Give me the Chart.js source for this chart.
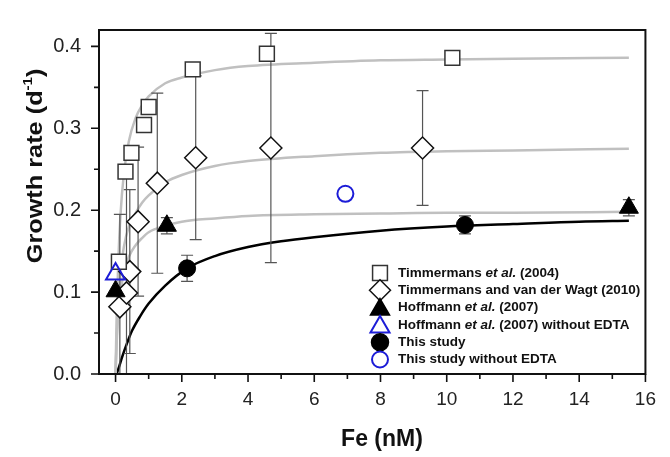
<!DOCTYPE html>
<html>
<head>
<meta charset="utf-8">
<script src="https://cdn.jsdelivr.net/npm/chart.js@4.4.1/dist/chart.umd.min.js"></script>
<style>
    html, body { margin: 0; padding: 0; background: #fff; }
    #wrap { width: 670px; height: 457px; }
</style>
</head>
<body>
<div id="wrap"><canvas id="grafico" width="670" height="457"></canvas></div>
<script>
// Timmermans et al. (2004) - quadrados
const timm04X = [0.1, 0.3, 0.48, 0.86, 1.0, 2.33, 4.57, 10.17];
const timm04Y = [0.137, 0.247, 0.270, 0.304, 0.326, 0.372, 0.391, 0.386];

// Timmermans and van der Wagt (2010) - losangos com barras de erro
const timm10X = [0.13, 0.33, 0.43, 0.68, 1.26, 2.42, 4.69, 9.27];
const timm10Y = [0.082, 0.099, 0.125, 0.186, 0.233, 0.264, 0.276, 0.276];
const timm10Erro = [0.113, 0.147, 0.1, 0.091, 0.11, 0.1, 0.14, 0.07];

// Hoffmann et al. (2007)
const hoffX = [0.0, 1.55, 15.5];
const hoffY = [0.101, 0.181, 0.203];
const hoffErro = [0, 0.01, 0.01];

// Hoffmann et al. (2007) sem EDTA
const hoffSemX = [0.0];
const hoffSemY = [0.122];

// Este estudo
const estudoX = [2.16, 10.55];
const estudoY = [0.129, 0.182];
const estudoErro = [0.016, 0.011];

// Este estudo sem EDTA
const estudoSemX = [6.94];
const estudoSemY = [0.22];

// Curvas ajustadas
const curvaX = [0, 0.03, 0.08, 0.15, 0.25, 0.4, 0.6, 0.8, 1.0, 1.5, 2, 3, 4, 6, 8, 10, 12, 15.5];
const curvaTimm04Y = [0, 0.065, 0.135, 0.195, 0.244, 0.284, 0.312, 0.328, 0.339, 0.355, 0.362, 0.371, 0.376, 0.38, 0.383, 0.384, 0.385, 0.386];
const curvaTimm10Y = [0, 0.04, 0.085, 0.125, 0.155, 0.18, 0.196, 0.209, 0.218, 0.234, 0.243, 0.254, 0.26, 0.266, 0.27, 0.272, 0.273, 0.275];
const curvaHoffY = [0, 0.035, 0.072, 0.1, 0.123, 0.143, 0.157, 0.166, 0.173, 0.181, 0.186, 0.19, 0.193, 0.195, 0.196, 0.197, 0.197, 0.198];
const curvaEstudoX = [0.0, 0.1, 0.2, 0.35, 0.5, 0.75, 1.0, 1.5, 2.16, 3, 4, 5, 6, 8, 10, 12, 14, 15.5];
const curvaEstudoY = [-0.004, 0.008, 0.021, 0.038, 0.053, 0.071, 0.086, 0.108, 0.129, 0.144, 0.155, 0.162, 0.167, 0.175, 0.18, 0.183, 0.186, 0.187];

// Marcas dos eixos
const xMarcas = [0, 2, 4, 6, 8, 10, 12, 14, 16];
const xMenores = [1, 3, 5, 7, 9, 11, 13, 15];
const yMarcas = [0, 0.1, 0.2, 0.3, 0.4];
const yMenores = [0.05, 0.15, 0.25, 0.35];

const AZUL = 'rgb(28, 28, 215)';
const FONTE = '"Liberation Sans", Arial, sans-serif';

function pontos(xs, ys) {
    return xs.map((v, i) => ({ x: v, y: ys[i] }));
}

// Barras de erro desenhadas por cima das curvas
const barrasErro = [
    { x: timm10X, y: timm10Y, erro: timm10Erro },
    { x: hoffX, y: hoffY, erro: hoffErro },
    { x: estudoX, y: estudoY, erro: estudoErro }
];

// Legenda
const legenda = [
    { texto: [['Timmermans ', false], ['et al.', true], [' (2004)', false]], estilo: 'rect', raio: 10.5, fundo: '#fff', borda: '#333' },
    { texto: [['Timmermans and van der Wagt (2010)', false]], estilo: 'rectRot', raio: 10.5, fundo: '#fff', borda: '#111' },
    { texto: [['Hoffmann ', false], ['et al.', true], [' (2007)', false]], estilo: 'triangle', raio: 11, fundo: '#000', borda: '#000' },
    { texto: [['Hoffmann ', false], ['et al.', true], [' (2007) without EDTA', false]], estilo: 'triangle', raio: 11, fundo: '#fff', borda: AZUL },
    { texto: [['This study', false]], estilo: 'circle', raio: 8.5, fundo: '#000', borda: '#000' },
    { texto: [['This study without EDTA', false]], estilo: 'circle', raio: 8, fundo: '#fff', borda: AZUL }
];

let barrasFeitas = false;

function desenharBarras(chart) {
    const { ctx, chartArea, scales } = chart;
    ctx.save();
    ctx.beginPath();
    ctx.rect(chartArea.left, chartArea.top, chartArea.right - chartArea.left, chartArea.bottom - chartArea.top);
    ctx.clip();
    ctx.strokeStyle = '#555';
    ctx.lineWidth = 1.2;
    barrasErro.forEach(s => {
        s.x.forEach((xv, i) => {
            const e = s.erro[i];
            if (!e) return;
            const px = scales.x.getPixelForValue(xv);
            const p1 = scales.y.getPixelForValue(s.y[i] + e);
            const p2 = scales.y.getPixelForValue(s.y[i] - e);
            ctx.beginPath();
            ctx.moveTo(px, p1); ctx.lineTo(px, p2);
            ctx.moveTo(px - 6, p1); ctx.lineTo(px + 6, p1);
            ctx.moveTo(px - 6, p2); ctx.lineTo(px + 6, p2);
            ctx.stroke();
        });
    });
    ctx.restore();
}

const extras = {
    id: 'extras',
    beforeDraw() {
        barrasFeitas = false;
    },
    beforeDatasetDraw(chart, args) {
        if (barrasFeitas || chart.data.datasets[args.index].curva) return;
        desenharBarras(chart);
        barrasFeitas = true;
    },
    afterDraw(chart) {
        const { ctx, chartArea: a, scales } = chart;
        ctx.save();

        // Moldura
        ctx.strokeStyle = '#111';
        ctx.lineWidth = 2;
        ctx.strokeRect(a.left, a.top, a.right - a.left, a.bottom - a.top);

        // Marcas
        ctx.lineWidth = 1.6;
        ctx.beginPath();
        xMarcas.forEach(v => { const p = scales.x.getPixelForValue(v); ctx.moveTo(p, a.bottom); ctx.lineTo(p, a.bottom + 8); });
        xMenores.forEach(v => { const p = scales.x.getPixelForValue(v); ctx.moveTo(p, a.bottom); ctx.lineTo(p, a.bottom + 5); });
        yMarcas.forEach(v => { const p = scales.y.getPixelForValue(v); ctx.moveTo(a.left, p); ctx.lineTo(a.left - 8, p); });
        yMenores.forEach(v => { const p = scales.y.getPixelForValue(v); ctx.moveTo(a.left, p); ctx.lineTo(a.left - 5, p); });
        ctx.stroke();

        // Título do eixo X
        ctx.fillStyle = '#111';
        ctx.font = 'bold 23px ' + FONTE;
        ctx.textAlign = 'center';
        ctx.textBaseline = 'middle';
        ctx.fillText('Fe (nM)', 382, 440);

        // Título do eixo Y com expoente
        ctx.save();
        ctx.translate(34, 166);
        ctx.rotate(-Math.PI / 2);
        ctx.scale(1.15, 1);
        const fonteG = 'bold 22px ' + FONTE;
        const fonteP = 'bold 13px ' + FONTE;
        ctx.font = fonteG;
        const w1 = ctx.measureText('Growth rate (d').width;
        const w3 = ctx.measureText(')').width;
        ctx.font = fonteP;
        const w2 = ctx.measureText('-1').width;
        let cx = -(w1 + w2 + w3) / 2;
        ctx.textAlign = 'left';
        ctx.textBaseline = 'alphabetic';
        ctx.font = fonteG;
        ctx.fillText('Growth rate (d', cx, 8);
        cx += w1;
        ctx.font = fonteP;
        ctx.fillText('-1', cx, -2);
        cx += w2;
        ctx.font = fonteG;
        ctx.fillText(')', cx, 8);
        ctx.restore();

        // Legenda
        ctx.textAlign = 'left';
        ctx.textBaseline = 'middle';
        legenda.forEach((item, i) => {
            const y = 273 + i * 17.3;
            ctx.fillStyle = item.fundo;
            ctx.strokeStyle = item.borda;
            ctx.lineWidth = item.borda === AZUL ? 2 : 1.5;
            Chart.helpers.drawPoint(ctx, { pointStyle: item.estilo, radius: item.raio, rotation: 0, borderWidth: ctx.lineWidth }, 380, y + (item.estilo === 'triangle' ? 2 : 0));
            let tx = 398;
            item.texto.forEach(([t, italico]) => {
                ctx.font = (italico ? 'italic ' : '') + 'bold 13.5px ' + FONTE;
                ctx.fillStyle = '#111';
                ctx.fillText(t, tx, y);
                tx += ctx.measureText(t).width;
            });
        });
        ctx.restore();
    }
};

function curva(xs, ys, cor) {
    return {
        curva: true,
        data: pontos(xs, ys),
        showLine: true,
        borderColor: cor,
        borderWidth: 2.5,
        pointRadius: 0,
        cubicInterpolationMode: 'monotone',
        order: 10
    };
}

function serie(xs, ys, estilo, raio, fundo, borda, largura, ordem) {
    return {
        data: pontos(xs, ys),
        pointStyle: estilo,
        pointRadius: raio,
        pointHoverRadius: raio,
        backgroundColor: fundo,
        borderColor: borda,
        borderWidth: largura,
        order: ordem
    };
}

const ctxGrafico = document.getElementById('grafico').getContext('2d');
new Chart(ctxGrafico, {
    type: 'scatter',
    data: {
        datasets: [
            curva(curvaX, curvaTimm04Y, 'rgb(192,192,192)'),
            curva(curvaX, curvaTimm10Y, 'rgb(192,192,192)'),
            curva(curvaX, curvaHoffY, 'rgb(192,192,192)'),
            curva(curvaEstudoX, curvaEstudoY, '#000'),
            serie(timm10X, timm10Y, 'rectRot', 11, '#fff', '#111', 1.5, 6),
            serie(timm04X, timm04Y, 'rect', 10.5, '#fff', '#333', 1.5, 5),
            serie(hoffX, hoffY, 'triangle', 11, '#000', '#000', 1, 4),
            serie(hoffSemX, hoffSemY, 'triangle', 11, 'rgba(255,255,255,0)', AZUL, 2, 3),
            serie(estudoX, estudoY, 'circle', 8.5, '#000', '#000', 1, 2),
            serie(estudoSemX, estudoSemY, 'circle', 8, 'rgba(255,255,255,0)', AZUL, 2, 1)
        ]
    },
    options: {
        responsive: false,
        animation: false,
        devicePixelRatio: 1,
        layout: { padding: { left: 0, top: 10, right: 23, bottom: 0 } },
        plugins: {
            legend: { display: false },
            tooltip: { enabled: false }
        },
        scales: {
            x: {
                type: 'linear',
                min: -0.5,
                max: 16,
                grid: { display: false, drawTicks: false },
                border: { display: false },
                afterBuildTicks: axis => { axis.ticks = xMarcas.map(v => ({ value: v })); },
                afterFit: axis => { axis.height = 83; },
                ticks: {
                    padding: 14,
                    color: '#222',
                    font: { family: FONTE, size: 19 },
                    maxRotation: 0,
                    callback: v => String(v)
                }
            },
            y: {
                type: 'linear',
                min: 0,
                max: 0.42,
                grid: { display: false, drawTicks: false },
                border: { display: false },
                afterBuildTicks: axis => { axis.ticks = yMarcas.map(v => ({ value: v })); },
                afterFit: axis => { axis.width = 99; },
                ticks: {
                    padding: 18,
                    color: '#222',
                    font: { family: FONTE, size: 20 },
                    callback: v => v.toFixed(1)
                }
            }
        }
    },
    plugins: [extras]
});
</script>
</body>
</html>
